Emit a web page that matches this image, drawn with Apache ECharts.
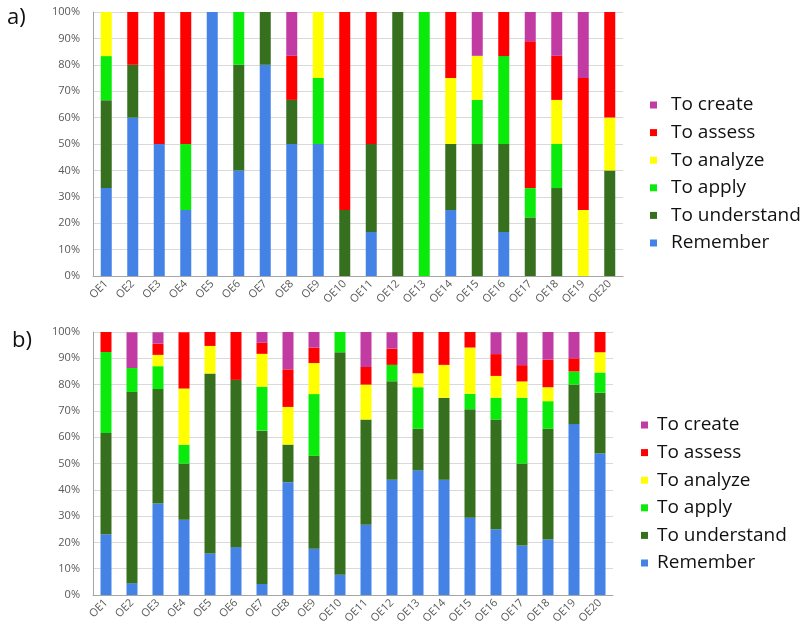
<!DOCTYPE html>
<html>
<head>
<meta charset="utf-8">
<script src="https://cdn.jsdelivr.net/npm/echarts@6/dist/echarts.min.js"></script>
<style>html,body{margin:0;padding:0;background:#fff;}#c{width:800px;height:632px;}</style>
</head>
<body>
<div id="c"></div>
<script>
const categories = ['OE1','OE2','OE3','OE4','OE5','OE6','OE7','OE8','OE9','OE10','OE11','OE12','OE13','OE14','OE15','OE16','OE17','OE18','OE19','OE20'];
const yTicks = [0,10,20,30,40,50,60,70,80,90,100];
const seriesNames = ['Remember','To understand','To apply','To analyze','To assess','To create'];
const legendOrder = ['To create','To assess','To analyze','To apply','To understand','Remember'];

// Chart a) percentages
const aRemember   = [33.3,60,50,25,100,40,80,50,50,0,16.7,0,0,25,0,16.7,0,0,0,0];
const aUnderstand = [33.3,20,0,0,0,40,20,16.7,0,25,33.3,100,0,25,50,33.3,22.2,33.3,0,40];
const aApply      = [16.7,0,0,25,0,20,0,0,25,0,0,0,100,0,16.7,33.3,11.1,16.7,0,0];
const aAnalyze    = [16.7,0,0,0,0,0,0,0,25,0,0,0,0,25,16.7,0,0,16.7,25,20];
const aAssess     = [0,20,50,50,0,0,0,16.7,0,75,50,0,0,25,0,16.7,55.6,16.7,50,40];
const aCreate     = [0,0,0,0,0,0,0,16.7,0,0,0,0,0,0,16.7,0,11.1,16.7,25,0];

// Chart b) percentages
const bRemember   = [23.1,4.5,34.8,28.6,15.8,18.2,4.2,42.9,17.6,7.7,26.7,43.8,47.4,43.8,29.4,25,18.8,21.1,65,53.8];
const bUnderstand = [38.5,72.7,43.5,21.4,68.4,63.6,58.3,14.3,35.3,84.6,40,37.5,15.8,31.2,41.2,41.7,31.2,42.1,15,23.1];
const bApply      = [30.8,9.1,8.7,7.1,0,0,16.7,0,23.5,7.7,0,6.2,15.8,0,5.9,8.3,25,10.5,5,7.7];
const bAnalyze    = [0,0,4.3,21.4,10.5,0,12.5,14.3,11.8,0,13.3,0,5.3,12.5,17.6,8.3,6.2,5.3,0,7.7];
const bAssess     = [7.7,0,4.3,21.4,5.3,18.2,4.2,14.3,5.9,0,6.7,6.2,15.8,12.5,5.9,8.3,6.2,10.5,5,7.7];
const bCreate     = [0,13.6,4.3,0,0,0,4.2,14.3,5.9,0,13.3,6.2,0,0,0,8.3,12.5,10.5,10,0];

const colors = {
  'Remember':'#4482E6',
  'To understand':'#36701F',
  'To apply':'#0BEB0B',
  'To analyze':'#FFFF00',
  'To assess':'#FF0000',
  'To create':'#C13BA2'
};
const aData = [aRemember,aUnderstand,aApply,aAnalyze,aAssess,aCreate];
const bData = [bRemember,bUnderstand,bApply,bAnalyze,bAssess,bCreate];

const grids = [
  {left:93, right:177, top:12, height:264},
  {left:93, right:187, top:332, height:263}
];
function xAx(i){
  return {type:'category', gridIndex:i, data:categories,
    axisLine:{lineStyle:{color:'#a6a6a6'}}, axisTick:{show:false},
    axisLabel:{rotate:45, color:'#595959', fontSize:11, fontFamily:'Open Sans', margin:6, interval:0}};
}
function yAx(i){
  return {type:'value', gridIndex:i, min:yTicks[0], max:yTicks[yTicks.length-1], interval:10,
    axisLine:{show:true, lineStyle:{color:'#a6a6a6'}}, axisTick:{show:false},
    splitLine:{lineStyle:{color:'#d9d9d9'}},
    axisLabel:{formatter:'{value}%', color:'#595959', fontSize:11, fontFamily:'Open Sans', margin:13}};
}
const series = [];
seriesNames.forEach((n,k)=>{
  series.push({name:n, type:'bar', stack:'a', xAxisIndex:0, yAxisIndex:0, barWidth:11,
    itemStyle:{color:colors[n]}, data:aData[k]});
});
seriesNames.forEach((n,k)=>{
  series.push({name:n, type:'bar', stack:'b', xAxisIndex:1, yAxisIndex:1, barWidth:11,
    itemStyle:{color:colors[n]}, data:bData[k]});
});
function leg(left, top, padLeft){
  return {orient:'vertical', left:left, top:top, data:legendOrder, icon:'rect',
    itemWidth:7, itemHeight:7, itemGap:7.6, selectedMode:false,
    textStyle:{fontSize:19, color:'#111', fontFamily:'Open Sans', lineHeight:20, padding:[0,0,0,padLeft]}};
}
const chart = echarts.init(document.getElementById('c'), null, {renderer:'canvas'});
chart.setOption({
  animation:false,
  backgroundColor:'#fff',
  grid:grids,
  xAxis:[xAx(0), xAx(1)],
  yAxis:[yAx(0), yAx(1)],
  legend:[leg(645, 90, 9), leg(636, 410, 4)],
  graphic:[
    {type:'text', left:7, top:7, style:{text:'a)', fontSize:22, fill:'#111', fontFamily:'Open Sans'}},
    {type:'text', left:12, top:330, style:{text:'b)', fontSize:22, fill:'#111', fontFamily:'Open Sans'}}
  ],
  series:series
});
</script>
</body>
</html>
